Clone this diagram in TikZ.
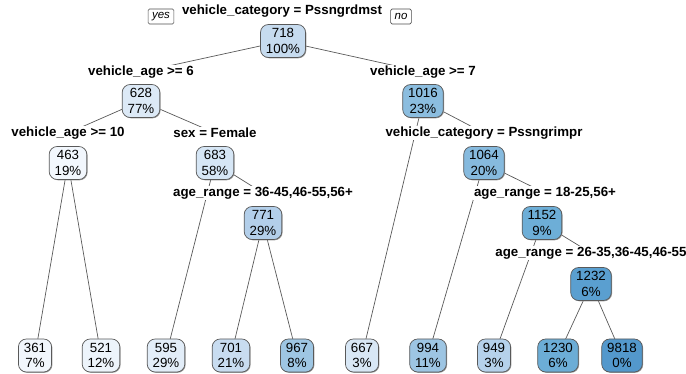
\documentclass[tikz,border=0pt]{standalone}
\usepackage{fontspec}
\setmainfont{Liberation Sans}
\usetikzlibrary{shadows,backgrounds}
\definecolor{c361}{HTML}{F1F6FC}
\definecolor{c521}{HTML}{EDF4FB}
\definecolor{c463}{HTML}{F2F7FD}
\definecolor{c595}{HTML}{E2EDF8}
\definecolor{c683}{HTML}{D6E6F5}
\definecolor{c628}{HTML}{DCE9F6}
\definecolor{c718}{HTML}{C6DBEF}
\definecolor{c667}{HTML}{D8E7F5}
\definecolor{c701}{HTML}{C8DCF0}
\definecolor{c771}{HTML}{B3CFEA}
\definecolor{c949}{HTML}{B5D1EB}
\definecolor{c967}{HTML}{9EC6E3}
\definecolor{c994}{HTML}{9DC5E3}
\definecolor{c1016}{HTML}{8BBDDF}
\definecolor{c1064}{HTML}{86BADE}
\definecolor{c1152}{HTML}{6DAED7}
\definecolor{c1230}{HTML}{6CADD6}
\definecolor{c1232}{HTML}{5A9FD0}
\definecolor{c9818}{HTML}{5398CC}
\tikzset{
  tnode/.style={draw=black!65, rounded corners=8pt, line width=0.7pt,
    minimum height=33pt, inner xsep=5.5pt, inner ysep=1pt, align=center,
    font=\fontsize{13.3}{15.5}\selectfont,
    drop shadow={shadow xshift=0.8pt, shadow yshift=-0.8pt, fill=black!40, opacity=1}},
  slabel/.style={fill=white, inner sep=1pt, font=\fontsize{13.3}{15}\selectfont\bfseries},
  yn/.style={draw=black!70, rounded corners=1.5pt, line width=0.6pt, inner xsep=4pt, inner ysep=1pt,
    font=\fontsize{11.5}{12}\selectfont\itshape, minimum height=15pt},
  branch/.style={draw=black!65, line width=0.7pt}
}
\begin{document}
\begin{tikzpicture}[x=1pt,y=-1pt]
\useasboundingbox (0,0) rectangle (686,374);
% split labels
\node[slabel] (l718) at (282,11) {vehicle\_category = Pssngrdmst};
\node[yn] (yes) at (161,16.5) {yes};
\node[yn] (no) at (401,16.5) {no};
\node[slabel] (l628) at (141,72) {vehicle\_age >= 6};
\node[slabel] (l1016) at (423,72) {vehicle\_age >= 7};
\node[slabel] (l463) at (68,133) {vehicle\_age >= 10};
\node[slabel] (l683) at (215,133) {sex = Female};
\node[slabel] (l1064) at (484,133) {vehicle\_category = Pssngrimpr};
\node[slabel] (l771) at (263,193) {age\_range = 36-45,46-55,56+};
\node[slabel] (l1152) at (545,193) {age\_range = 18-25,56+};
\node[slabel] (l1232) at (591,253) {age\_range = 26-35,36-45,46-55};
% internal nodes
\node[tnode, fill=c718] (n718) at (283,41) {718\\100\%};
\node[tnode, fill=c628] (n628) at (141,101) {628\\77\%};
\node[tnode, fill=c1016] (n1016) at (423,101) {1016\\23\%};
\node[tnode, fill=c463] (n463) at (68,163) {463\\19\%};
\node[tnode, fill=c683] (n683) at (215,163) {683\\58\%};
\node[tnode, fill=c1064] (n1064) at (484,163) {1064\\20\%};
\node[tnode, fill=c771] (n771) at (263,223) {771\\29\%};
\node[tnode, fill=c1152] (n1152) at (542,223) {1152\\9\%};
\node[tnode, fill=c1232] (n1232) at (591,284) {1232\\6\%};
% leaves
\node[tnode, fill=c361] (n361) at (35,355.5) {361\\7\%};
\node[tnode, fill=c521] (n521) at (101,355.5) {521\\12\%};
\node[tnode, fill=c595] (n595) at (166,355.5) {595\\29\%};
\node[tnode, fill=c701] (n701) at (231,355.5) {701\\21\%};
\node[tnode, fill=c967] (n967) at (297,355.5) {967\\8\%};
\node[tnode, fill=c667] (n667) at (362,355.5) {667\\3\%};
\node[tnode, fill=c994] (n994) at (428,355.5) {994\\11\%};
\node[tnode, fill=c949] (n949) at (494,355.5) {949\\3\%};
\node[tnode, fill=c1230] (n1230) at (558,355.5) {1230\\6\%};
\node[tnode, fill=c9818] (n9818) at (622,355.5) {9818\\0\%};
\begin{pgfonlayer}{background}
\draw[branch] (n718.center) -- (l628.center);
\draw[branch] (n718.center) -- (l1016.center);
\draw[branch] (n628.center) -- (l463.center);
\draw[branch] (n628.center) -- (l683.center);
\draw[branch] (n463.center) -- (n361.center);
\draw[branch] (n463.center) -- (n521.center);
\draw[branch] (n683.center) -- (n595.center);
\draw[branch] (n683.center) -- (l771.center);
\draw[branch] (n771.center) -- (n701.center);
\draw[branch] (n771.center) -- (n967.center);
\draw[branch] (n1016.center) -- (n667.center);
\draw[branch] (n1016.center) -- (l1064.center);
\draw[branch] (n1064.center) -- (n994.center);
\draw[branch] (n1064.center) -- (l1152.center);
\draw[branch] (n1152.center) -- (n949.center);
\draw[branch] (n1152.center) -- (l1232.center);
\draw[branch] (n1232.center) -- (n1230.center);
\draw[branch] (n1232.center) -- (n9818.center);
\end{pgfonlayer}
\end{tikzpicture}
\end{document}
